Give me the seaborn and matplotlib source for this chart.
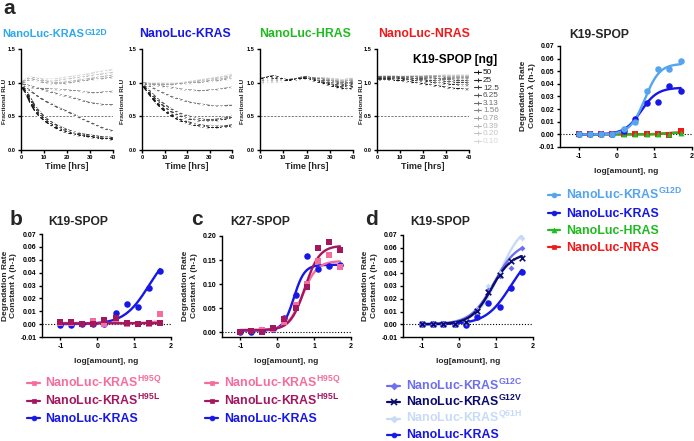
import numpy as np
import pandas as pd
import matplotlib
matplotlib.use("Agg")
import matplotlib.pyplot as plt
import seaborn as sns
from matplotlib.lines import Line2D

sns.set_style("ticks")
plt.rcParams['font.family'] = ['Liberation Sans', 'DejaVu Sans']
plt.rcParams['mathtext.fontset'] = 'custom'
plt.rcParams['mathtext.rm'] = 'Liberation Sans'
plt.rcParams['mathtext.bf'] = 'Liberation Sans:bold'
plt.rcParams['mathtext.it'] = 'Liberation Sans:italic'

# ---------------- data ----------------
time_hrs = [0, 2, 4, 6, 8, 10, 12, 14, 16, 18, 20, 22, 24, 26, 28, 30, 32, 34, 36, 38, 40]
dose_labels = ["50", "25", "12.5", "6.25", "3.13", "1.56", "0.78", "0.39", "0.20", "0.10"]
dose_greys = ["#141414", "#262626", "#3a3a3a", "#545454", "#6c6c6c", "#858585",
              "#9e9e9e", "#b3b3b3", "#c5c5c5", "#d6d6d6"]

rlu_kras_g12d = {
    "50":   [0.95, 0.85, 0.70, 0.58, 0.50, 0.44, 0.39, 0.35, 0.31, 0.28, 0.26, 0.24, 0.22, 0.21, 0.20, 0.19, 0.18, 0.17, 0.16, 0.16, 0.15],
    "25":   [0.96, 0.88, 0.74, 0.62, 0.53, 0.47, 0.41, 0.37, 0.33, 0.30, 0.27, 0.25, 0.23, 0.22, 0.21, 0.20, 0.19, 0.18, 0.17, 0.17, 0.17],
    "12.5": [0.96, 0.90, 0.78, 0.66, 0.57, 0.50, 0.44, 0.40, 0.36, 0.33, 0.30, 0.28, 0.26, 0.24, 0.23, 0.22, 0.21, 0.20, 0.19, 0.19, 0.18],
    "6.25": [0.95, 0.93, 0.88, 0.83, 0.78, 0.74, 0.70, 0.67, 0.63, 0.60, 0.575, 0.54, 0.51, 0.47, 0.44, 0.41, 0.38, 0.35, 0.32, 0.30, 0.28],
    "3.13": [0.97, 0.97, 0.95, 0.93, 0.91, 0.89, 0.87, 0.85, 0.83, 0.81, 0.80, 0.78, 0.76, 0.74, 0.72, 0.70, 0.69, 0.68, 0.67, 0.67, 0.67],
    "1.56": [0.96, 0.95, 0.93, 0.92, 0.91, 0.91, 0.91, 0.90, 0.90, 0.89, 0.89, 0.88, 0.88, 0.87, 0.86, 0.85, 0.85, 0.85, 0.86, 0.86, 0.87],
    "0.78": [0.98, 1.02, 1.05, 1.04, 1.02, 1.00, 0.99, 0.98, 0.98, 0.98, 0.99, 1.00, 1.01, 1.02, 1.03, 1.04, 1.05, 1.05, 1.06, 1.07, 1.08],
    "0.39": [1.00, 1.05, 1.08, 1.07, 1.05, 1.03, 1.01, 1.00, 1.00, 1.00, 1.01, 1.02, 1.03, 1.04, 1.05, 1.06, 1.07, 1.08, 1.09, 1.10, 1.11],
    "0.20": [1.00, 1.02, 1.04, 1.04, 1.03, 1.02, 1.02, 1.02, 1.03, 1.04, 1.05, 1.06, 1.07, 1.08, 1.09, 1.10, 1.11, 1.12, 1.13, 1.14, 1.15],
    "0.10": [1.00, 1.03, 1.05, 1.06, 1.06, 1.05, 1.05, 1.05, 1.06, 1.07, 1.08, 1.09, 1.10, 1.11, 1.12, 1.13, 1.15, 1.16, 1.17, 1.18, 1.20],
}
rlu_kras = {
    "50":   [0.97, 0.88, 0.79, 0.71, 0.64, 0.58, 0.53, 0.49, 0.45, 0.42, 0.40, 0.38, 0.36, 0.35, 0.34, 0.33, 0.33, 0.33, 0.34, 0.34, 0.35],
    "25":   [0.98, 0.90, 0.81, 0.73, 0.66, 0.60, 0.55, 0.51, 0.47, 0.44, 0.42, 0.40, 0.38, 0.37, 0.36, 0.35, 0.35, 0.35, 0.35, 0.36, 0.37],
    "12.5": [0.98, 0.91, 0.83, 0.76, 0.70, 0.64, 0.59, 0.55, 0.52, 0.49, 0.47, 0.45, 0.44, 0.43, 0.43, 0.43, 0.43, 0.44, 0.45, 0.46, 0.48],
    "6.25": [0.99, 0.93, 0.86, 0.79, 0.73, 0.68, 0.63, 0.59, 0.56, 0.53, 0.51, 0.49, 0.47, 0.46, 0.45, 0.45, 0.45, 0.46, 0.47, 0.48, 0.50],
    "3.13": [0.99, 0.97, 0.94, 0.90, 0.87, 0.84, 0.81, 0.78, 0.76, 0.74, 0.72, 0.70, 0.69, 0.68, 0.67, 0.66, 0.65, 0.65, 0.65, 0.66, 0.66],
    "1.56": [1.00, 0.98, 0.97, 0.96, 0.95, 0.94, 0.93, 0.92, 0.91, 0.90, 0.89, 0.89, 0.88, 0.88, 0.88, 0.89, 0.89, 0.90, 0.91, 0.92, 0.93],
    "0.78": [1.00, 0.99, 0.98, 0.97, 0.97, 0.97, 0.97, 0.97, 0.98, 0.98, 0.99, 0.99, 1.00, 1.00, 1.01, 1.02, 1.02, 1.03, 1.04, 1.05, 1.05],
    "0.39": [1.00, 0.99, 0.98, 0.98, 0.98, 0.97, 0.97, 0.97, 0.98, 0.98, 0.99, 1.00, 1.01, 1.02, 1.02, 1.03, 1.04, 1.05, 1.06, 1.07, 1.08],
    "0.20": [1.00, 0.99, 0.98, 0.98, 0.98, 0.98, 0.98, 0.98, 0.98, 0.99, 1.00, 1.01, 1.02, 1.03, 1.04, 1.05, 1.06, 1.07, 1.08, 1.09, 1.10],
    "0.10": [1.00, 0.99, 0.99, 0.99, 0.99, 0.99, 0.99, 0.99, 0.99, 1.00, 1.01, 1.02, 1.03, 1.04, 1.05, 1.06, 1.07, 1.08, 1.09, 1.11, 1.12],
}
rlu_hras = {
    "50":   [1.06, 1.07, 1.09, 1.10, 1.08, 1.05, 1.03, 1.04, 1.05, 1.06, 1.06, 1.04, 1.02, 1.00, 0.98, 0.96, 0.94, 0.92, 0.91, 0.90, 0.92],
    "25":   [1.05, 1.06, 1.07, 1.08, 1.07, 1.05, 1.04, 1.04, 1.05, 1.06, 1.07, 1.05, 1.03, 1.01, 0.99, 0.97, 0.95, 0.94, 0.93, 0.95, 0.94],
    "12.5": [1.04, 1.05, 1.06, 1.06, 1.06, 1.05, 1.04, 1.04, 1.05, 1.07, 1.08, 1.06, 1.04, 1.02, 1.00, 0.98, 0.97, 0.96, 0.95, 0.98, 0.96],
    "6.25": [1.03, 1.04, 1.05, 1.05, 1.05, 1.04, 1.04, 1.05, 1.06, 1.08, 1.08, 1.07, 1.05, 1.03, 1.02, 1.00, 0.99, 0.98, 0.97, 1.00, 0.98],
    "3.13": [1.02, 1.03, 1.04, 1.04, 1.04, 1.04, 1.04, 1.05, 1.06, 1.08, 1.09, 1.07, 1.06, 1.05, 1.03, 1.02, 1.01, 1.00, 0.99, 1.02, 1.00],
    "1.56": [1.01, 1.02, 1.03, 1.03, 1.03, 1.03, 1.04, 1.05, 1.06, 1.07, 1.08, 1.07, 1.06, 1.05, 1.04, 1.03, 1.02, 1.01, 1.00, 1.03, 1.01],
    "0.78": [1.00, 1.01, 1.02, 1.02, 1.02, 1.03, 1.03, 1.04, 1.05, 1.06, 1.07, 1.07, 1.06, 1.06, 1.05, 1.04, 1.03, 1.02, 1.01, 1.04, 1.03],
    "0.39": [1.00, 1.00, 1.01, 1.01, 1.02, 1.02, 1.03, 1.04, 1.05, 1.06, 1.07, 1.07, 1.07, 1.06, 1.06, 1.05, 1.04, 1.03, 1.02, 1.05, 1.04],
    "0.20": [0.99, 1.00, 1.00, 1.01, 1.01, 1.02, 1.03, 1.04, 1.05, 1.06, 1.06, 1.07, 1.07, 1.07, 1.06, 1.06, 1.05, 1.04, 1.03, 1.06, 1.05],
    "0.10": [0.99, 0.99, 1.00, 1.00, 1.01, 1.02, 1.03, 1.04, 1.04, 1.05, 1.06, 1.06, 1.07, 1.07, 1.07, 1.06, 1.06, 1.05, 1.04, 1.06, 1.06],
}
rlu_nras = {
    "50":   [1.04, 1.04, 1.04, 1.04, 1.03, 1.03, 1.02, 1.01, 1.00, 0.99, 0.98, 0.97, 0.96, 0.95, 0.94, 0.93, 0.92, 0.91, 0.91, 0.90, 0.90],
    "25":   [1.06, 1.06, 1.06, 1.06, 1.05, 1.05, 1.04, 1.04, 1.03, 1.02, 1.02, 1.01, 1.00, 0.99, 0.99, 0.98, 0.97, 0.97, 0.96, 0.96, 0.96],
    "12.5": [1.07, 1.07, 1.07, 1.07, 1.07, 1.06, 1.06, 1.05, 1.05, 1.04, 1.04, 1.03, 1.03, 1.02, 1.02, 1.01, 1.01, 1.00, 1.00, 1.00, 0.99],
    "6.25": [1.08, 1.08, 1.08, 1.08, 1.08, 1.07, 1.07, 1.07, 1.06, 1.06, 1.06, 1.05, 1.05, 1.05, 1.04, 1.04, 1.04, 1.03, 1.03, 1.03, 1.02],
    "3.13": [1.09, 1.09, 1.09, 1.09, 1.09, 1.08, 1.08, 1.08, 1.08, 1.07, 1.07, 1.07, 1.07, 1.06, 1.06, 1.06, 1.06, 1.05, 1.05, 1.05, 1.05],
    "1.56": [1.08, 1.09, 1.09, 1.09, 1.09, 1.09, 1.09, 1.09, 1.09, 1.09, 1.08, 1.08, 1.08, 1.08, 1.08, 1.07, 1.07, 1.07, 1.07, 1.07, 1.07],
    "0.78": [1.07, 1.08, 1.08, 1.08, 1.08, 1.08, 1.08, 1.09, 1.09, 1.09, 1.09, 1.09, 1.09, 1.09, 1.08, 1.08, 1.08, 1.08, 1.08, 1.08, 1.08],
    "0.39": [1.06, 1.07, 1.07, 1.07, 1.07, 1.08, 1.08, 1.08, 1.09, 1.09, 1.09, 1.10, 1.10, 1.10, 1.10, 1.09, 1.09, 1.09, 1.09, 1.09, 1.09],
    "0.20": [1.05, 1.06, 1.06, 1.06, 1.07, 1.07, 1.07, 1.08, 1.08, 1.09, 1.09, 1.10, 1.10, 1.10, 1.10, 1.10, 1.10, 1.10, 1.10, 1.10, 1.10],
    "0.10": [1.04, 1.05, 1.05, 1.06, 1.06, 1.06, 1.07, 1.07, 1.08, 1.08, 1.09, 1.09, 1.10, 1.10, 1.11, 1.11, 1.11, 1.11, 1.11, 1.11, 1.11],
}

# dose-response: log10 of amount (0.10 ... 50 ng)
log_amount = [-1.0, -0.7, -0.41, -0.11, 0.19, 0.5, 0.8, 1.1, 1.4, 1.7]

# panel a (K19-SPOP)
rate_a_g12d = [0.0, 0.0, 0.0, 0.0, 0.004, 0.0095, 0.0345, 0.0516, 0.0516, 0.0584]
rate_a_kras = [0.0, 0.0, 0.0, 0.0, 0.003, 0.0124, 0.0247, 0.026, 0.0384, 0.0347]
rate_a_hras = [0.0, 0.0, 0.0, 0.0, 0.0, 0.0, 0.0, 0.0002, 0.0005, 0.0008]
rate_a_nras = [0.0, 0.0, 0.0, 0.0, 0.0, 0.0, 0.0, 0.0, -0.0005, 0.0024]
# panel b (K19-SPOP)
rate_b_h95q = [0.001, 0.0005, 0.0, 0.0026, 0.0, 0.004, 0.0, 0.0, 0.0, 0.0075]
rate_b_h95l = [0.0015, 0.0015, 0.0, 0.0, 0.003, 0.0045, 0.0005, 0.0, 0.0005, 0.0005]
rate_b_kras = [-0.0005, -0.0005, 0.0, 0.0, 0.0, 0.0089, 0.016, 0.013, 0.028, 0.041]
# panel c (K27-SPOP)
rate_c_h95q = [0.001, 0.003, 0.004, 0.007, 0.020, 0.057, 0.100, 0.147, 0.160, 0.135]
rate_c_h95l = [0.0, 0.003, 0.001, 0.009, 0.028, 0.050, 0.094, 0.174, 0.188, 0.170]
rate_c_kras = [-0.001, -0.001, 0.002, 0.006, 0.030, 0.077, 0.158, 0.131, 0.137, 0.140]
# panel d (K19-SPOP)
rate_d_g12c = [0.0, 0.0, 0.0, 0.0, 0.001, 0.011, 0.027, 0.038, 0.0444, 0.0596]
rate_d_g12v = [0.0, 0.0, 0.0, 0.0, 0.002, 0.0105, 0.0256, 0.0387, 0.0497, 0.0518]
rate_d_q61h = [0.0, 0.0, 0.0, 0.0, 0.002, 0.012, 0.030, 0.040, 0.050, 0.068]
rate_d_kras = [0.0, 0.0, 0.0, 0.0, -0.0002, 0.006, 0.0165, 0.0136, 0.0288, 0.0413]

# 4-parameter logistic fit parameters (bottom, top, logEC50, hill)
fit_a = {"g12d": (0.0, 0.056, 0.75, 2.2), "kras": (0.0, 0.037, 0.65, 2.0),
         "hras": (0.0, 0.0012, 1.2, 3.0), "nras": (0.0, 0.0016, 1.3, 3.0)}
fit_b = {"h95q": (0.0008, 0.0025, 1.5, 3.0), "h95l": (0.0006, 0.0008, 1.0, 1.0),
         "kras": (0.0, 0.060, 1.4, 1.3)}
fit_c = {"h95q": (0.004, 0.148, 0.68, 2.2), "h95l": (0.004, 0.180, 0.75, 2.2),
         "kras": (0.003, 0.140, 0.45, 3.0)}
fit_d = {"g12c": (0.0, 0.065, 0.95, 1.4), "g12v": (0.0, 0.056, 0.88, 1.6),
         "q61h": (0.0, 0.080, 1.10, 1.4), "kras": (0.0, 0.060, 1.4, 1.3)}

C_G12D_T = "#2ea8ee"
C_G12D = "#55a4f0"
C_KRAS = "#1717e6"
C_HRAS = "#20bb20"
C_NRAS = "#f01a1a"
C_H95Q = "#f56d9e"
C_H95L = "#a3175f"
C_G12C = "#6e6ef0"
C_G12V = "#0b0b6e"
C_Q61H = "#c6dbf6"

# ---------------- figure ----------------
W, H = 694, 441
fig = plt.figure(figsize=(W / 100, H / 100), dpi=100)
renderer = fig.canvas.get_renderer()


def rect(l, r, t, b):
    return [l / W, 1 - b / H, (r - l) / W, (b - t) / H]


def fx(x):
    return x / W


def fy(y):
    return 1 - y / H


def base_style(ax, fs, pad=1.5):
    sns.despine(ax=ax)
    for s in ["left", "bottom"]:
        ax.spines[s].set_linewidth(1.0)
        ax.spines[s].set_color("black")
    ax.tick_params(axis="both", length=2.5, width=1.0, direction="out",
                   labelsize=fs, pad=pad, colors="black")
    for lab in ax.get_xticklabels() + ax.get_yticklabels():
        lab.set_fontweight("bold")


def text_sup(x_left, yb, main, sup, fs, fs_sup, color, raise_px):
    t = fig.text(fx(x_left), fy(yb), main, color=color, fontsize=fs, fontweight="bold",
                 ha="left", va="baseline")
    bb = t.get_window_extent(renderer)
    fig.text(fx(bb.x1 + 0.5), fy(yb - raise_px), sup, color=color, fontsize=fs_sup,
             fontweight="bold", ha="left", va="baseline")


# ---- panel a: time courses ----
ts_sets = [(rlu_kras_g12d, 21, 113, 4.5), (rlu_kras, 142, 232, 122.5),
           (rlu_hras, 260, 353, 242.5), (rlu_nras, 377, 469, 361.5)]
for k, (dset, l, r, xlab) in enumerate(ts_sets):
    ax = fig.add_axes(rect(l, r, 49, 150))
    rows = []
    for lab in dose_labels:
        for t, v in zip(time_hrs, dset[lab]):
            rows.append((t, v, lab))
    df = pd.DataFrame(rows, columns=["time", "rlu", "dose"])
    ax.axhline(0.5, color="#444444", ls=(0, (3, 2)), lw=0.5, zorder=0)
    for lab, col in zip(dose_labels[::-1], dose_greys[::-1]):
        sub = df[df["dose"] == lab]
        sns.lineplot(data=sub, x="time", y="rlu", ax=ax, color=col, lw=1.1,
                     marker="+", markersize=3.2, markeredgewidth=0.8, legend=False)
    ax.set_xlim(0, 40)
    ax.set_ylim(0, 1.5)
    ax.set_xticks([0, 10, 20, 30, 40])
    ax.set_yticks([0, 0.5, 1.0, 1.5], ["0.0", "0.5", "1.0", "1.5"])
    base_style(ax, 4.1, pad=1.1)
    ax.set_xlabel("Time [hrs]", fontsize=6.5, fontweight="bold", labelpad=1.5)
    ax.set_ylabel("")
    fig.text(fx(xlab), fy(101), "Fractional RLU", fontsize=4.6, fontweight="bold",
             rotation=90, ha="center", va="center")

# titles of time-course panels
text_sup(2.5, 37, "NanoLuc-KRAS", "G12D", 7.9, 6.2, C_G12D_T, 2.0)
fig.text(fx(185), fy(37), "NanoLuc-KRAS", color=C_KRAS, fontsize=8.8, fontweight="bold",
         ha="center", va="baseline")
fig.text(fx(305), fy(37), "NanoLuc-HRAS", color=C_HRAS, fontsize=8.8, fontweight="bold",
         ha="center", va="baseline")
fig.text(fx(424), fy(37), "NanoLuc-NRAS", color=C_NRAS, fontsize=8.8, fontweight="bold",
         ha="center", va="baseline")
fig.text(fx(455), fy(63), "K19-SPOP [ng]", color="black", fontsize=8.6, fontweight="bold",
         ha="center", va="baseline")

# dose legend of time courses
leg_y0, leg_dy = 72.0, 7.65
for i, (lab, col) in enumerate(zip(dose_labels, dose_greys)):
    y = leg_y0 + i * leg_dy
    fig.add_artist(Line2D([fx(474), fx(481)], [fy(y), fy(y)], transform=fig.transFigure,
                          color=col, lw=0.8))
    fig.add_artist(Line2D([fx(477.5)], [fy(y)], transform=fig.transFigure, color=col,
                          marker="+", ms=3, mew=0.7))
    fig.text(fx(483), fy(y + 2.2), lab, color=col, fontsize=5.9, ha="left", va="baseline")


# ---- dose-response helper ----
def logistic(x, p):
    bottom, top, logec50, hill = p
    return bottom + (top - bottom) / (1 + 10 ** ((logec50 - x) * hill))


xfit = np.linspace(-1.0, 1.7, 200)


def dose_panel(rc, series, ylim, yticks, ylabels):
    ax = fig.add_axes(rc)
    ax.axhline(0, color="black", ls=(0, (1, 1.6)), lw=0.8, zorder=0)
    for vals, p, col, mk, ms in series:
        sns.lineplot(x=xfit, y=logistic(xfit, p), ax=ax, color=col, lw=1.7, zorder=2)
        sns.scatterplot(x=log_amount, y=vals, ax=ax, color=col, marker=mk, s=ms,
                        linewidth=(1.2 if mk == "x" else 0), edgecolor=col, zorder=3, legend=False)
    ax.set_xlim(-1.5, 2)
    ax.set_ylim(*ylim)
    ax.set_xticks([-1, 0, 1, 2], ["-1", "0", "1", "2"])
    ax.set_yticks(yticks, ylabels)
    base_style(ax, 5.0)
    ax.set_xlabel("log[amount], ng", fontsize=6, fontweight="bold", labelpad=6)
    ax.set_ylabel("")
    return ax


y7 = [-0.01, 0.0, 0.01, 0.02, 0.03, 0.04, 0.05, 0.06, 0.07]
y7l = ["-0.01", "0.00", "0.01", "0.02", "0.03", "0.04", "0.05", "0.06", "0.07"]

# panel a dose-response
dose_panel(rect(560, 692, 46, 147),
           [(rate_a_nras, fit_a["nras"], C_NRAS, "s", 18),
            (rate_a_hras, fit_a["hras"], C_HRAS, "^", 18),
            (rate_a_kras, fit_a["kras"], C_KRAS, "o", 22),
            (rate_a_g12d, fit_a["g12d"], C_G12D, "o", 22)],
           (-0.01, 0.07), y7, y7l)
# panel b
dose_panel(rect(42, 171, 234, 337),
           [(rate_b_kras, fit_b["kras"], C_KRAS, "o", 22),
            (rate_b_h95q, fit_b["h95q"], C_H95Q, "s", 20),
            (rate_b_h95l, fit_b["h95l"], C_H95L, "s", 20)],
           (-0.01, 0.07), y7, y7l)
# panel c
dose_panel(rect(222, 351, 236, 337),
           [(rate_c_kras, fit_c["kras"], C_KRAS, "o", 22),
            (rate_c_h95q, fit_c["h95q"], C_H95Q, "s", 20),
            (rate_c_h95l, fit_c["h95l"], C_H95L, "s", 20)],
           (-0.0104, 0.20), [0.0, 0.05, 0.10, 0.15, 0.20], ["0.00", "0.05", "0.10", "0.15", "0.20"])
# panel d
dose_panel(rect(403, 533, 235, 337),
           [(rate_d_q61h, fit_d["q61h"], C_Q61H, "D", 9),
            (rate_d_kras, fit_d["kras"], C_KRAS, "o", 22),
            (rate_d_g12c, fit_d["g12c"], C_G12C, "D", 9),
            (rate_d_g12v, fit_d["g12v"], C_G12V, "x", 16)],
           (-0.01, 0.07), y7, y7l)

# y labels of dose panels
ylab = "Degradation Rate\nConstant \u03bb (h-1)"
for xc, yc in [(528, 96), (9.5, 286), (190, 286), (370, 286)]:
    fig.text(fx(xc), fy(yc), ylab, fontsize=6, fontweight="bold", rotation=90,
             ha="center", va="center", multialignment="center", linespacing=1.05)

# panel titles
for xc, yb, t in [(599, 38, "K19-SPOP"), (78, 225, "K19-SPOP"), (260, 225, "K27-SPOP"), (440, 225, "K19-SPOP")]:
    fig.text(fx(xc), fy(yb), t, fontsize=8.7, fontweight="bold", ha="center", va="baseline")

# panel letters
for xc, yb, t in [(9, 14, "a"), (16, 225, "b"), (197, 225, "c"), (371, 225, "d")]:
    fig.text(fx(xc), fy(yb), t, fontsize=15, fontweight="bold", ha="center", va="baseline")


# legends
def legend_rows(x0, x1, xt, ys, labels, colors, markers):
    for y, lab, c, m in zip(ys, labels, colors, markers):
        fig.add_artist(Line2D([fx(x0), fx(x1)], [fy(y), fy(y)], transform=fig.transFigure,
                              color=c, lw=1.6))
        fig.add_artist(Line2D([fx((x0 + x1) / 2)], [fy(y)], transform=fig.transFigure, color=c,
                              marker=m, ms=(3.5 if m != "x" else 4), mew=(1.2 if m == "x" else 0.5),
                              mec=c, mfc=c))
        fig.text(fx(xt), fy(y + 4.0), lab, color=c, fontsize=8.9, fontweight="bold",
                 ha="left", va="baseline")


legend_rows(548, 560, 566, [195, 213, 230, 247],
            [r"NanoLuc-KRAS$^{\mathbf{G12D}}$", "NanoLuc-KRAS", "NanoLuc-HRAS", "NanoLuc-NRAS"],
            [C_G12D, C_KRAS, C_HRAS, C_NRAS], ["o", "o", "^", "s"])
lab_bc = [r"NanoLuc-KRAS$^{\mathbf{H95Q}}$", r"NanoLuc-KRAS$^{\mathbf{H95L}}$", "NanoLuc-KRAS"]
legend_rows(27, 40, 45, [383, 401, 418], lab_bc, [C_H95Q, C_H95L, C_KRAS], ["s", "s", "o"])
legend_rows(205, 218, 224, [383, 401, 418], lab_bc, [C_H95Q, C_H95L, C_KRAS], ["s", "s", "o"])
legend_rows(387, 400, 406, [385.5, 402, 418.5, 434.5],
            [r"NanoLuc-KRAS$^{\mathbf{G12C}}$", r"NanoLuc-KRAS$^{\mathbf{G12V}}$",
             r"NanoLuc-KRAS$^{\mathbf{Q61H}}$", "NanoLuc-KRAS"],
            [C_G12C, C_G12V, C_Q61H, C_KRAS], ["D", "x", "D", "o"])

fig.savefig("out.png", dpi=100)
